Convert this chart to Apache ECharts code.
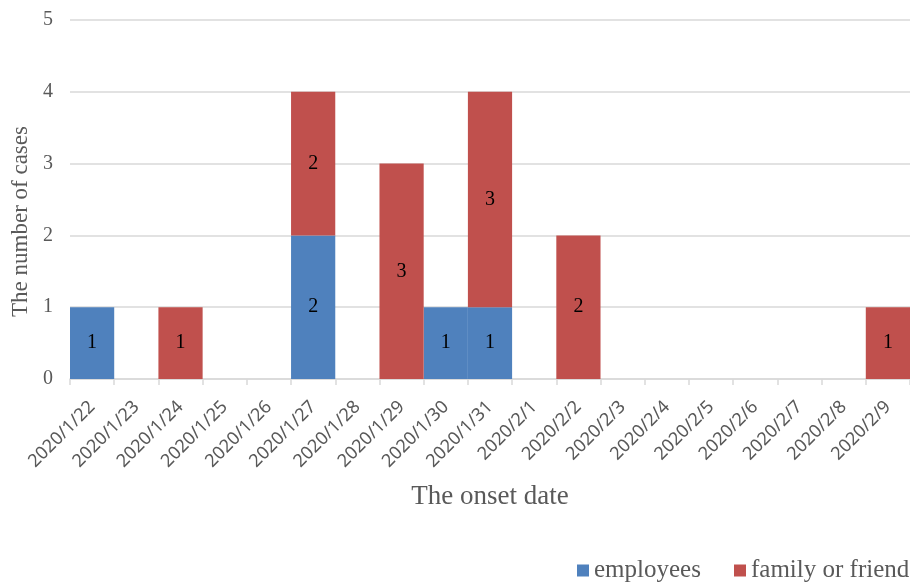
<!DOCTYPE html>
<html>
<head>
<meta charset="utf-8">
<script src="https://cdn.jsdelivr.net/npm/echarts@6/dist/echarts.min.js"></script>
<style>
html,body{margin:0;padding:0;background:#fff;}
#chart{width:910px;height:584px;}
</style>
</head>
<body>
<div id="chart"></div>
<script>
var dates = ['2020/1/22','2020/1/23','2020/1/24','2020/1/25','2020/1/26','2020/1/27','2020/1/28','2020/1/29','2020/1/30','2020/1/31','2020/2/1','2020/2/2','2020/2/3','2020/2/4','2020/2/5','2020/2/6','2020/2/7','2020/2/8','2020/2/9'];
var employees = [1,0,0,0,0,2,0,0,1,1,0,0,0,0,0,0,0,0,0];
var familyOrFriend = [0,0,1,0,0,2,0,3,0,3,0,2,0,0,0,0,0,0,1];
var yTicks = [0,1,2,3,4,5];

var serif = '"Liberation Serif", "DejaVu Serif", serif';
var chart = echarts.init(document.getElementById('chart'));
var labelCfg = {
  show: true, position: 'inside', color: '#000', fontFamily: serif, fontSize: 20,
  formatter: function (p) { return p.value ? String(p.value) : ''; }
};
var legendText = { fontFamily: serif, fontSize: 25, color: '#595959' };
chart.setOption({
  animation: false,
  grid: { left: 70, right: 0, top: 20, bottom: 205 },
  legend: [
    { left: 572, top: 553, itemWidth: 12, itemHeight: 12, icon: 'rect',
      textStyle: legendText, data: ['employees'] },
    { left: 729, top: 553, itemWidth: 12, itemHeight: 12, icon: 'rect',
      textStyle: legendText, data: ['family or friend'] }
  ],
  xAxis: {
    type: 'category', data: dates,
    name: 'The onset date', nameLocation: 'middle', nameGap: 104,
    nameTextStyle: { fontFamily: serif, fontSize: 27, color: '#595959' },
    axisLine: { lineStyle: { color: '#d9d9d9', width: 1.5 } },
    axisTick: { show: true, length: 6, lineStyle: { color: '#d9d9d9', width: 1.5 } },
    axisLabel: { rotate: 45, margin: 25, interval: 0, fontFamily: '"Noto Sans", sans-serif', fontSize: 18, color: '#595959' }
  },
  yAxis: {
    type: 'value', min: yTicks[0], max: yTicks[yTicks.length - 1], interval: 1,
    name: 'The number of cases', nameLocation: 'middle', nameGap: 30,
    nameTextStyle: { fontFamily: serif, fontSize: 23, color: '#595959', padding: [0, 44, 0, 0] },
    axisLine: { show: false }, axisTick: { show: false },
    axisLabel: { margin: 17, fontFamily: serif, fontSize: 20, color: '#595959' },
    splitLine: { lineStyle: { color: '#d9d9d9', width: 1.5 } }
  },
  series: [
    { name: 'employees', type: 'bar', stack: 'total', data: employees, barCategoryGap: '0%',
      itemStyle: { color: '#4F81BD' }, label: labelCfg },
    { name: 'family or friend', type: 'bar', stack: 'total', data: familyOrFriend, barCategoryGap: '0%',
      itemStyle: { color: '#C0504D' }, label: labelCfg }
  ]
});
</script>
</body>
</html>
